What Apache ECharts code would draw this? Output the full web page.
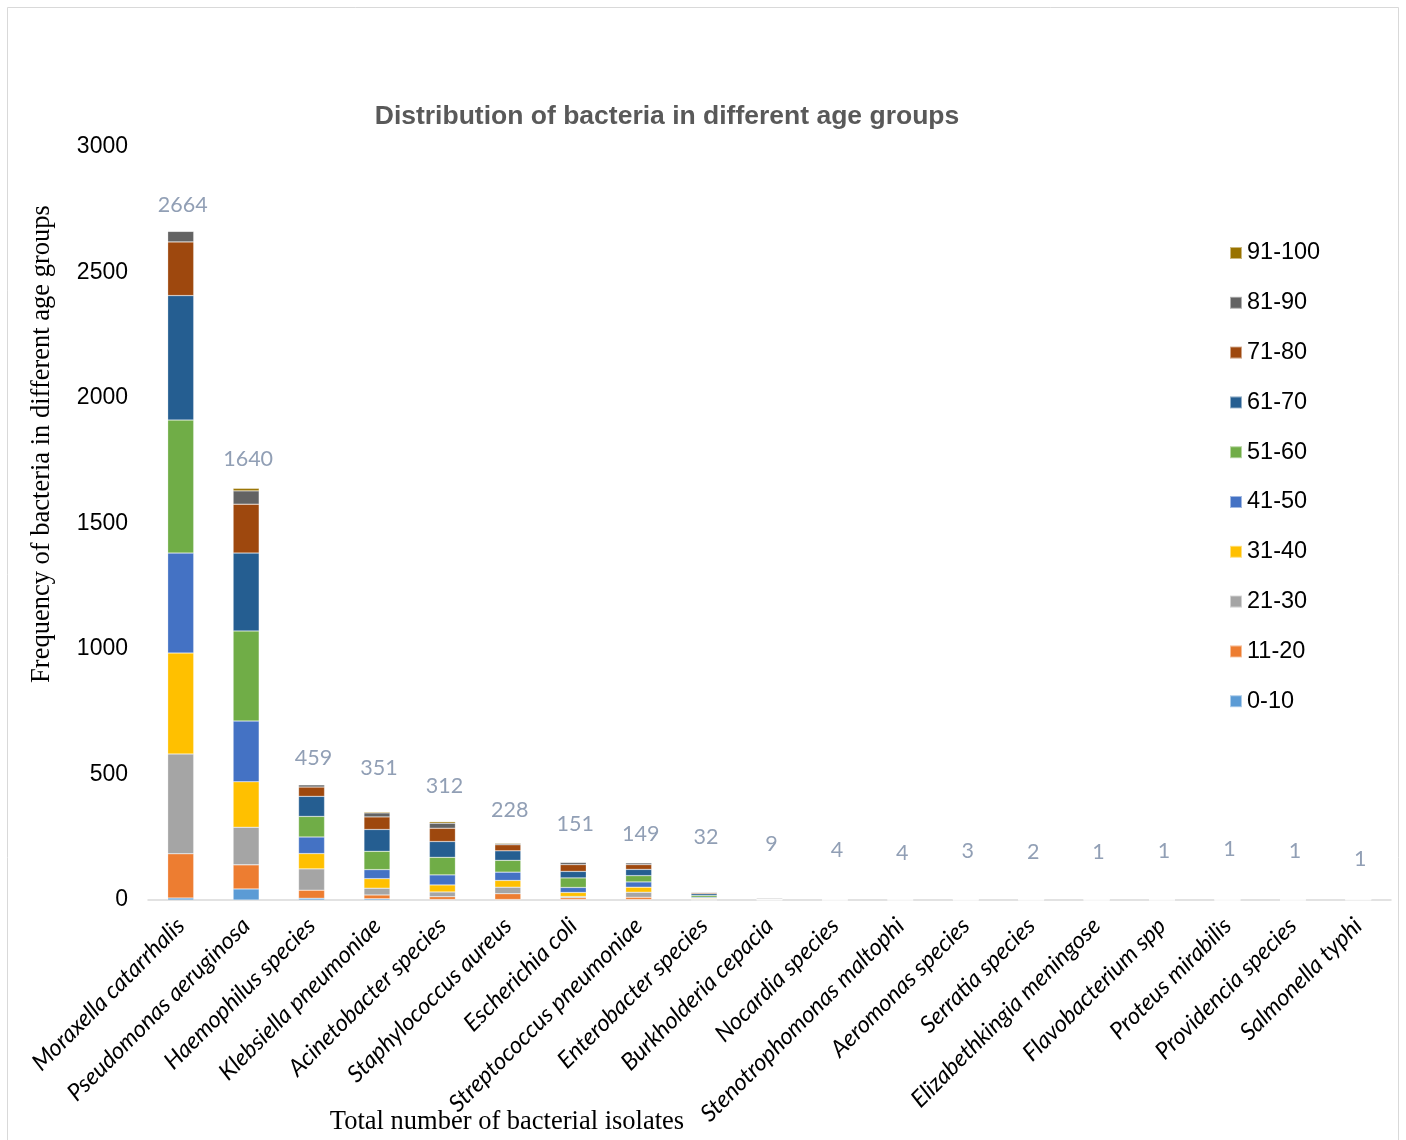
<!DOCTYPE html>
<html>
<head>
<meta charset="utf-8">
<script src="https://cdn.jsdelivr.net/npm/echarts@6/dist/echarts.min.js"></script>
<style>
  html, body { margin: 0; padding: 0; background: #ffffff; }
  #chart { width: 1406px; height: 1140px; }
</style>
</head>
<body>
<div id="chart"></div>
<script>
// Bacterial species (x-axis categories)
const categories = [
  'Moraxella catarrhalis', 'Pseudomonas aeruginosa', 'Haemophilus species',
  'Klebsiella pneumoniae', 'Acinetobacter species', 'Staphylococcus aureus',
  'Escherichia coli', 'Streptococcus pneumoniae', 'Enterobacter species',
  'Burkholderia cepacia', 'Nocardia species', 'Stenotrophomonas maltophi',
  'Aeromonas species', 'Serratia species', 'Elizabethkingia meningose',
  'Flavobacterium spp', 'Proteus mirabilis', 'Providencia species', 'Salmonella typhi'
];

// Number of isolates per age group, one value per species
const age0to10   = [8, 44, 7, 5, 2, 2, 2, 2, 0, 0, 0, 0, 0, 0, 0, 0, 0, 0, 0];
const age11to20  = [176, 96, 32, 15, 11, 23, 7, 9, 1, 0, 0, 0, 0, 0, 0, 0, 0, 0, 0];
const age21to30  = [398, 150, 85, 27, 19, 26, 5, 20, 3, 1, 0, 0, 0, 0, 0, 0, 0, 0, 1];
const age31to40  = [402, 181, 61, 38, 28, 27, 16, 20, 3, 0, 0, 0, 0, 0, 0, 0, 0, 0, 0];
const age41to50  = [398, 242, 66, 36, 40, 33, 20, 21, 4, 0, 1, 0, 1, 0, 0, 0, 0, 0, 0];
const age51to60  = [530, 359, 82, 73, 70, 47, 38, 25, 7, 2, 1, 1, 0, 1, 0, 1, 0, 0, 0];
const age61to70  = [496, 310, 80, 87, 63, 38, 26, 25, 7, 2, 2, 2, 1, 1, 1, 0, 0, 1, 0];
const age71to80  = [214, 195, 37, 50, 53, 24, 27, 19, 4, 1, 0, 1, 1, 0, 0, 0, 1, 0, 0];
const age81to90  = [42, 53, 9, 16, 20, 5, 9, 7, 3, 3, 0, 0, 0, 0, 0, 0, 0, 0, 0];
const age91to100 = [0, 10, 0, 4, 6, 3, 1, 1, 0, 0, 0, 0, 0, 0, 0, 0, 0, 0, 0];

const ageGroups = [
  { name: '0-10',   values: age0to10,   color: '#5B9BD5' },
  { name: '11-20',  values: age11to20,  color: '#ED7D31' },
  { name: '21-30',  values: age21to30,  color: '#A5A5A5' },
  { name: '31-40',  values: age31to40,  color: '#FFC000' },
  { name: '41-50',  values: age41to50,  color: '#4472C4' },
  { name: '51-60',  values: age51to60,  color: '#70AD47' },
  { name: '61-70',  values: age61to70,  color: '#255E91' },
  { name: '71-80',  values: age71to80,  color: '#9E480E' },
  { name: '81-90',  values: age81to90,  color: '#636363' },
  { name: '91-100', values: age91to100, color: '#997300' }
];

// y-axis ticks
const yTicks = [0, 500, 1000, 1500, 2000, 2500, 3000];

// Totals per species, summed from the age groups
const totals = categories.map((_, i) => ageGroups.reduce((s, g) => s + g.values[i], 0));

// Vertical lift (px) of each total label above its bar
const labelLift = [26, 29, 27, 44, 36, 33, 38, 29, 55, 54, 49, 46, 48, 47, 48, 49, 51, 49, 41];

const chart = echarts.init(document.getElementById('chart'), null, { renderer: 'canvas' });

const barSeries = ageGroups.map(g => ({
  name: g.name,
  type: 'bar',
  stack: 'total',
  barWidth: 26,
  itemStyle: { color: g.color, borderColor: 'rgba(255,255,255,0.5)', borderWidth: 0.5 },
  emphasis: { disabled: true },
  data: g.values
}));

const totalSeries = {
  name: 'total',
  type: 'scatter',
  symbolSize: 0,
  silent: true,
  z: 10,
  label: {
    show: true,
    position: 'inside',
    color: '#7587A3',
    fontFamily: 'Lato',
    fontSize: 21.5
  },
  data: totals.map((t, i) => ({
    value: t,
    label: { offset: [2, -labelLift[i]], formatter: String(t) }
  }))
};

chart.setOption({
  animation: false,
  backgroundColor: '#ffffff',
  title: {
    text: 'Distribution of bacteria in different age groups',
    left: 667,
    top: 103,
    padding: 0,
    textAlign: 'center',
    textStyle: {
      fontFamily: 'Liberation Sans',
      fontSize: 26.5,
      fontWeight: 'bold',
      color: '#595959'
    }
  },
  legend: {
    orient: 'vertical',
    left: 1229,
    top: 241,
    padding: 0,
    itemWidth: 12,
    itemHeight: 12,
    itemGap: 25.8,
    icon: 'rect',
    data: ageGroups.map(g => g.name).reverse(),
    textStyle: {
      fontFamily: 'Liberation Sans',
      fontSize: 23.5,
      lineHeight: 24,
      color: '#000000'
    }
  },
  grid: {
    left: 148,
    right: 15,
    top: 147,
    bottom: 240,
    containLabel: false
  },
  xAxis: {
    type: 'category',
    data: categories,
    axisLine: { lineStyle: { color: '#d9d9d9', width: 1.5 } },
    axisTick: { show: false },
    axisLabel: {
      interval: 0,
      rotate: 45,
      margin: 22,
      fontFamily: 'Lato',
      fontStyle: 'italic',
      fontSize: 23.5,
      color: '#000000'
    }
  },
  yAxis: {
    type: 'value',
    min: yTicks[0],
    max: yTicks[yTicks.length - 1],
    interval: yTicks[1] - yTicks[0],
    axisLine: { show: false },
    axisTick: { show: false },
    splitLine: { show: false },
    axisLabel: {
      margin: 20,
      fontFamily: 'Liberation Sans',
      fontSize: 23,
      color: '#000000',
      formatter: v => String(v)
    }
  },
  graphic: [
    {
      type: 'rect',
      silent: true,
      shape: { x: 7.5, y: 7.5, width: 1391, height: 1150 },
      style: { fill: 'none', stroke: '#d9d9d9', lineWidth: 1 }
    },
    {
      type: 'text',
      silent: true,
      x: 42,
      y: 444,
      rotation: Math.PI / 2,
      style: {
        text: 'Frequency of bacteria in different age groups',
        fontFamily: 'Liberation Serif',
        fontSize: 26.5,
        fill: '#000000',
        align: 'center',
        verticalAlign: 'middle'
      }
    },
    {
      type: 'text',
      silent: true,
      x: 507,
      y: 1122,
      style: {
        text: 'Total number of bacterial isolates',
        fontFamily: 'Liberation Serif',
        fontSize: 26.5,
        fill: '#000000',
        align: 'center',
        verticalAlign: 'middle'
      }
    }
  ],
  series: [...barSeries, totalSeries]
});
</script>
</body>
</html>
